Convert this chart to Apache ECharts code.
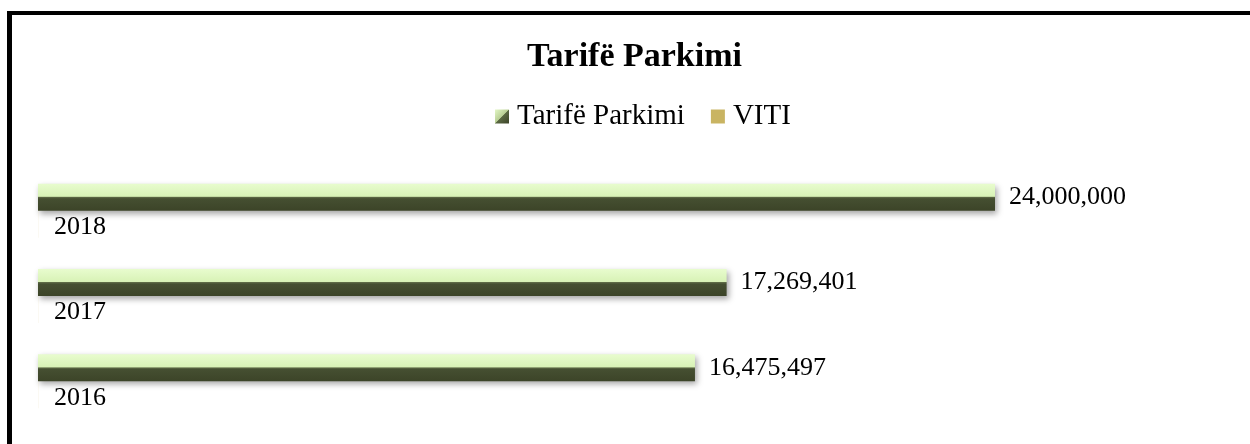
<!DOCTYPE html>
<html>
<head>
<meta charset="utf-8">
<script src="https://cdn.jsdelivr.net/npm/echarts@6/dist/echarts.min.js"></script>
<style>
html,body{margin:0;padding:0;background:#fff;}
#chart{position:absolute;left:0;top:0;width:1250px;height:444px;}
#frame{position:absolute;left:7px;top:11px;width:1250px;height:440px;border-left:5px solid #000;border-top:4px solid #000;pointer-events:none;}
</style>
</head>
<body>
<div id="chart"></div>
<div id="frame"></div>
<script>
var titleText = 'Tarifë Parkimi';
var categories = ['2016', '2017', '2018'];
var tarifeValues = [16475497, 17269401, 24000000];
var vitiValues = [2016, 2017, 2018];
var seriesNames = ['Tarifë Parkimi', 'VITI'];

var FONT = '"Liberation Serif", "Times New Roman", serif';
var chart = echarts.init(document.getElementById('chart'), null, {renderer: 'canvas'});

var barGrad = new echarts.graphic.LinearGradient(0, 0, 0, 1, [
  {offset: 0, color: '#E8FCCE'},
  {offset: 0.47, color: '#D8F2B6'},
  {offset: 0.5, color: '#5d6a45'},
  {offset: 0.56, color: '#454f31'},
  {offset: 1, color: '#3c4428'}
]);
var iconGrad = new echarts.graphic.LinearGradient(0, 0, 1, 1, [
  {offset: 0, color: '#E3F7C6'},
  {offset: 0.48, color: '#b9cf95'},
  {offset: 0.52, color: '#5a6842'},
  {offset: 1, color: '#3c4428'}
]);

chart.setOption({
  animation: false,
  title: {
    text: titleText,
    left: 522,
    top: 35,
    textStyle: {fontFamily: FONT, fontWeight: 'bold', fontSize: 34, color: '#000'}
  },
  legend: {
    top: 97,
    left: 490,
    itemWidth: 14,
    itemHeight: 14,
    itemGap: 26,
    icon: 'rect',
    textStyle: {fontFamily: FONT, fontSize: 29, color: '#000', padding: [0, 0, 0, 3]},
    data: [
      {name: seriesNames[0], itemStyle: {color: iconGrad}},
      {name: seriesNames[1], itemStyle: {color: '#C9B462'}}
    ]
  },
  grid: {left: 38, right: 255, top: 168, bottom: 20, containLabel: false},
  xAxis: {type: 'value', min: 0, max: 24000000, show: false},
  yAxis: {type: 'category', data: categories, show: false},
  series: [
    {
      name: seriesNames[0],
      type: 'bar',
      data: tarifeValues,
      barWidth: 27,
      barGap: 0,
      itemStyle: {color: barGrad, shadowColor: 'rgba(0,0,0,0.35)', shadowBlur: 6, shadowOffsetY: 3, shadowOffsetX: 2},
      label: {
        show: true, position: 'right', distance: 14,
        fontFamily: FONT, fontSize: 26, color: '#000',
        formatter: function (p) { return Number(p.value).toLocaleString('en-US'); }
      }
    },
    {
      name: seriesNames[1],
      type: 'bar',
      data: vitiValues,
      barWidth: 27,
      barGap: 0,
      itemStyle: {color: '#C9B462'},
      label: {
        show: true, position: 'right', distance: 16, offset: [0, 3],
        fontFamily: FONT, fontSize: 26, color: '#000',
        formatter: function (p) { return String(p.value); }
      }
    }
  ]
});
</script>
</body>
</html>
